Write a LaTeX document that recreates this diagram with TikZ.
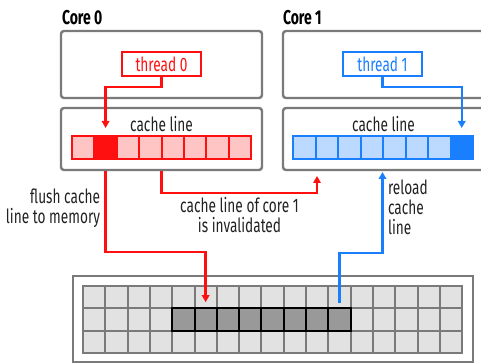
\documentclass[tikz,border=0pt]{standalone}
\usepackage{fontspec}
\setmainfont{Fira Sans}[FakeStretch=0.70]
\usetikzlibrary{arrows.meta}
\definecolor{cred}{HTML}{FF1010}
\definecolor{credlight}{HTML}{FFC4C4}
\definecolor{cblue}{HTML}{1A7FFF}
\definecolor{cbluelight}{HTML}{BCD9FF}
\definecolor{cgray}{HTML}{7A7A7A}
\definecolor{cmem}{HTML}{E2E2E2}
\definecolor{cmemdark}{HTML}{999999}
\definecolor{ctext}{HTML}{222222}
\begin{document}
\begin{tikzpicture}[x=1pt,y=-1pt,
  every node/.style={inner sep=0pt, outer sep=0pt},
  corebox/.style={draw=cgray, line width=2.4pt, rounded corners=3pt, minimum width=201pt, anchor=north west},
  tbox/.style={draw, line width=2.4pt, fill=white, minimum width=79pt, minimum height=24pt, font=\fontsize{19.5}{20}\selectfont},
  lbl/.style={text=ctext, font=\fontsize{19.5}{20}\selectfont},
  hdr/.style={text=black, font=\fontsize{20}{20}\selectfont\bfseries},
  rcell/.style={draw=cred, line width=2pt, minimum width=22.4pt, minimum height=23pt, anchor=north west},
  bcell/.style={draw=cblue, line width=2pt, minimum width=22.5pt, minimum height=23pt, anchor=north west},
  mcell/.style={draw=cgray, fill=cmem, line width=2pt, minimum width=22.3pt, minimum height=22.3pt, anchor=north west},
  dcell/.style={draw=black, fill=cmemdark, line width=2pt, minimum width=22.3pt, minimum height=22.3pt, anchor=north west},
  rarrow/.style={draw=cred, line width=2.4pt, -{Triangle[length=7pt,width=7.5pt]}},
  barrow/.style={draw=cblue, line width=2.4pt, -{Triangle[length=7pt,width=7.5pt]}}
]
\useasboundingbox (0,0) rectangle (481,363);
\begin{scope}
\clip (0,0) rectangle (481,363);
% headers
\node[hdr, anchor=base west] (h0) at (62,25) {Core 0};
\node[hdr, anchor=base west] (h1) at (283,25) {Core 1};
% core boxes
\node[corebox, minimum height=67pt] (c0t) at (61,31) {};
\node[corebox, minimum height=62pt] (c0c) at (61,108) {};
\node[corebox, minimum height=67pt] (c1t) at (283,31) {};
\node[corebox, minimum height=62pt] (c1c) at (283,108) {};
% threads
\node[tbox, draw=cred, text=cred] (t0) at (161.5,64) {thread 0};
\node[tbox, draw=cblue, text=cblue] (t1) at (382.5,64) {thread 1};
% cache line labels
\node[lbl, anchor=base] (cl0) at (161.5,131.5) {cache line};
\node[lbl, anchor=base] (cl1) at (383.5,131.5) {cache line};
% cache cells
\foreach \i/\f in {0/credlight,1/cred,2/credlight,3/credlight,4/credlight,5/credlight,6/credlight,7/credlight}
  \node[rcell, fill=\f] (r\i) at ({72+22.4*\i},136) {};
\foreach \i/\f in {0/cbluelight,1/cbluelight,2/cbluelight,3/cbluelight,4/cbluelight,5/cbluelight,6/cbluelight,7/cblue}
  \node[bcell, fill=\f] (b\i) at ({293+22.5*\i},136) {};
% memory
\node[draw=cgray, line width=2.4pt, minimum width=400pt, minimum height=86pt, anchor=north west] (mem) at (73,276) {};
\foreach \r in {0,1,2} {
  \foreach \c in {0,...,16} {
    \pgfmathtruncatemacro\isdark{and(\r==1, and(\c>3,\c<12))}
    \ifnum\isdark=0
      \node[mcell] (m\r-\c) at ({83+22.3*\c},{286+22.3*\r}) {};
    \fi
  }
}
\foreach \c in {4,...,11}
  \node[dcell] (m1-\c) at ({83+22.3*\c},{286+22.3}) {};
% arrows
\draw[rarrow] (t0.south) -- ++(0,11) -| ([yshift=8pt]r1.north);
\draw[barrow] (t1.south) -- ++(0,11) -| ([yshift=8pt]b7.north);
\coordinate (fs) at (r1.south |- c0c.south);
\draw[rarrow] ([yshift=-1pt]fs) -- ([yshift=-82pt]fs) -| ([yshift=-5pt]m0-5.center);
\draw[rarrow] ([yshift=-1pt]c0c.south) -- ++(0,22) -| ([xshift=34pt,yshift=-6pt]c1c.south west);
\coordinate (rl) at (t1.south |- c1c.south);
\draw[barrow] ([yshift=-6pt]m0-11.center) -- ++(0,-50) -| ([yshift=-2pt]rl);
% labels
\node[lbl, align=right, anchor=base east] (flush) at (100,223) {flush cache\\line to memory};
\node[lbl, align=center, anchor=base] (inv) at (239.5,232.7) {cache line of core 1\\is invalidated};
\node[lbl, align=left, anchor=base west] (reload) at (388,234.5) {reload\\cache\\line};
\end{scope}
\end{tikzpicture}
\end{document}
